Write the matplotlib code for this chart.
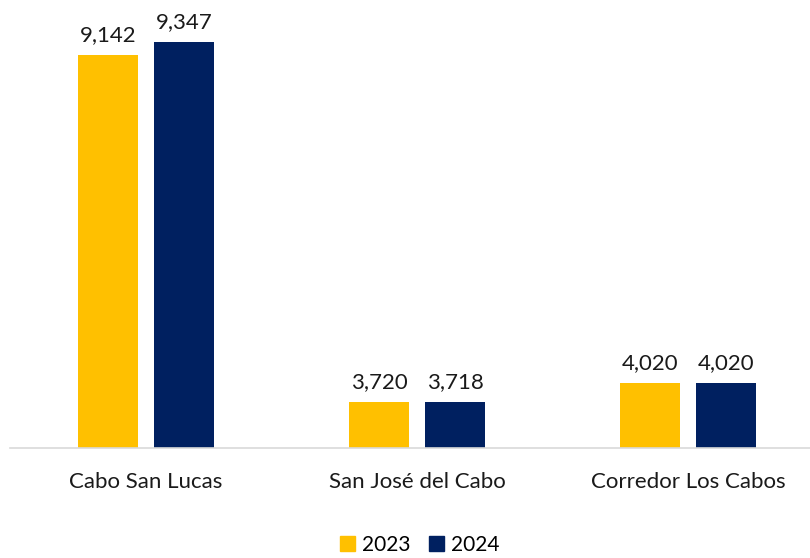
import matplotlib
matplotlib.use("Agg")
import matplotlib.pyplot as plt
import numpy as np
from matplotlib.patches import Patch

plt.rcParams['font.family'] = ['Lato', 'DejaVu Sans']

categorias = ["Cabo San Lucas", "San José del Cabo", "Corredor Los Cabos"]
anios = ["2023", "2024"]
valores_2023 = [9142, 3720, 4020]
valores_2024 = [9347, 3718, 4020]
colores = ["#FFC000", "#002060"]

fig = plt.figure(figsize=(8.1, 5.58), dpi=100)
ax = fig.add_axes([10 / 810, 1 - 448 / 558, 800 / 810, 448 / 558])

x = np.arange(len(categorias))
ancho = 60 / 271
sep = 16 / 271
desp = (ancho + sep) / 2

b1 = ax.bar(x - desp, valores_2023, ancho, color=colores[0])
b2 = ax.bar(x + desp, valores_2024, ancho, color=colores[1])

# etiquetas de datos
for barras in (b1, b2):
    for b in barras:
        v = b.get_height()
        ax.annotate("{:,}".format(v), (b.get_x() + b.get_width() / 2, v),
                    xytext=(0, 7), textcoords="offset points",
                    ha="center", va="bottom", fontsize=16, color="#1a1a1a")

ax.set_ylim(3000, 10000)
ax.set_xlim(-0.502, 2.45)
ax.set_yticks([])
ax.set_xticks(x)
ax.set_xticklabels(categorias, fontsize=16, color="#1a1a1a")
ax.tick_params(axis="x", length=0, pad=17)
for s in ("top", "right", "left"):
    ax.spines[s].set_visible(False)
ax.spines["bottom"].set_color("#D9D9D9")
ax.spines["bottom"].set_linewidth(1.2)

handles = [Patch(color=c, label=a) for c, a in zip(colores, anios)]
fig.legend(handles=handles, loc="center", bbox_to_anchor=(420 / 810, 1 - 545 / 558),
           ncol=2, frameon=False, fontsize=15, handlelength=0.7, handleheight=0.7,
           handletextpad=0.35, columnspacing=0.9)

fig.savefig("out.png", dpi=100)
